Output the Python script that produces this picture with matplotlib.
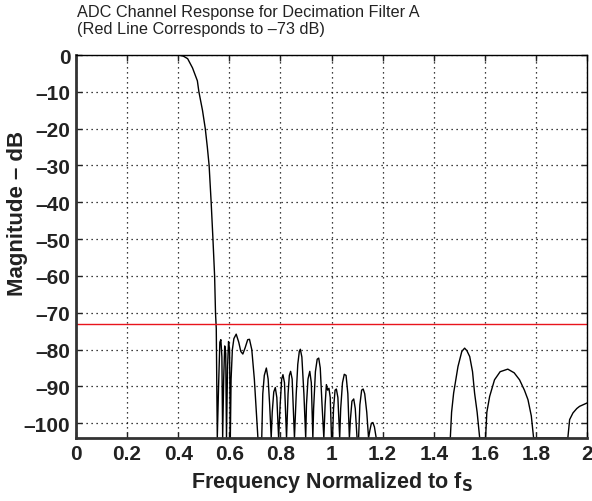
import numpy as np
import matplotlib
matplotlib.use("Agg")
import matplotlib.pyplot as plt

plt.rcParams["font.family"] = ["Liberation Sans", "DejaVu Sans"]

# Frekans (f/fS) ve genlik (dB); -104 = taban (null)
freq = [0.00, 0.40, 0.42, 0.437, 0.456, 0.475, 0.481, 0.495, 0.506, 0.514, 0.521,
        0.529, 0.536, 0.5425, 0.546, 0.549, 0.553,
        0.558, 0.563, 0.567, 0.571, 0.574,
        0.578, 0.582, 0.586, 0.589,
        0.593, 0.597, 0.601, 0.604,
        0.607, 0.612, 0.618, 0.627, 0.637, 0.645, 0.653, 0.662, 0.672, 0.679,
        0.688, 0.698, 0.706, 0.712, 0.727,
        0.731, 0.737, 0.745, 0.752, 0.758, 0.764,
        0.768, 0.774, 0.780, 0.786, 0.793,
        0.799, 0.805, 0.810, 0.816, 0.824,
        0.830, 0.835, 0.840, 0.846, 0.855,
        0.862, 0.868, 0.874, 0.878, 0.884, 0.892, 0.899,
        0.902, 0.908, 0.915, 0.921, 0.927,
        0.930, 0.937, 0.944, 0.950, 0.956, 0.963, 0.970,
        0.975, 0.980, 0.985, 0.990, 0.995, 1.000,
        1.004, 1.008, 1.014, 1.019, 1.025, 1.032,
        1.036, 1.043, 1.050, 1.057, 1.064, 1.070,
        1.074, 1.080, 1.087, 1.093, 1.100,
        1.106, 1.111, 1.118, 1.124, 1.130, 1.138, 1.145,
        1.150, 1.156, 1.162, 1.168, 1.175,
        1.465, 1.470, 1.478, 1.495, 1.510, 1.521, 1.530, 1.541, 1.552, 1.560, 1.570, 1.580,
        1.603, 1.608, 1.619, 1.638, 1.660, 1.690, 1.715, 1.736, 1.755, 1.769, 1.782, 1.791,
        1.925, 1.932, 1.945, 1.960, 1.971, 1.991, 2.000]
mag_db = [0.0, 0.0, -0.3, -1.0, -3.5, -7.0, -10.0, -15.0, -20.0, -25.0, -30.0,
          -40.0, -50.0, -60.0, -70.0, -74.3, -104,
          -90, -78, -77.3, -82, -104,
          -88, -79, -81, -104,
          -85, -77.8, -80, -104,
          -88, -80, -77, -75.8, -78, -80.5, -81.2, -79.5, -77.3, -77.2,
          -80, -88, -97, -104, -104,
          -92, -87, -85, -88, -95, -104,
          -97, -91.5, -90.3, -93, -104,
          -95, -88, -86.8, -89, -104,
          -92, -87, -85.9, -88, -104,
          -92, -84, -80.5, -79.9, -82, -92, -104,
          -95, -88, -85.9, -89, -104,
          -96, -86, -82.6, -82.3, -85, -95, -104,
          -95, -89.5, -91, -90.5, -93, -104,
          -104, -96, -91, -90.7, -93, -104,
          -96, -89, -86.7, -87, -92, -104,
          -99, -94, -93.4, -96, -104,
          -104, -95, -91, -90.7, -92, -97, -104,
          -102, -100, -99.8, -101, -104,
          -104, -97, -91.8, -84.6, -80.5, -79.6, -80.3, -81.9, -86, -91.8, -97, -104,
          -104, -97, -92.7, -88.2, -86, -85.3, -86.3, -88.2, -91, -93.6, -98, -104,
          -104, -99, -97.2, -96, -95.4, -94.8, -94.5]

red_level = -73
xticks = [0, 0.2, 0.4, 0.6, 0.8, 1.0, 1.2, 1.4, 1.6, 1.8, 2.0]
xtick_labels = ["0", "0.2", "0.4", "0.6", "0.8", "1", "1.2", "1.4", "1.6", "1.8", "2"]
yticks = [0, -10, -20, -30, -40, -50, -60, -70, -80, -90, -100]
ytick_labels = ["0" if v == 0 else "\u2013%d" % abs(v) for v in yticks]

fig = plt.figure(figsize=(5.92, 5.02), dpi=100)
ax = fig.add_axes([76 / 592, 1 - 439 / 502, 511 / 592, 383 / 502])

ax.plot(freq, mag_db, color="black", lw=1.0, clip_on=True)
ax.axhline(red_level, color="#e8141c", lw=1.0)

ax.set_xlim(0, 2)
ax.set_ylim(-104, 0)
ax.set_xticks(xticks)
ax.set_xticklabels(xtick_labels)
ax.set_yticks(yticks)
ax.set_yticklabels(ytick_labels)
ax.grid(True, color="black", ls=(0, (1, 3)), lw=0.9)
ax.tick_params(direction="in", length=4, width=1, top=True, right=True,
               labelsize=15, pad=4, colors="#222222")
for lab in ax.get_xticklabels() + ax.get_yticklabels():
    lab.set_fontweight("bold")
for s in ["left", "bottom"]:
    ax.spines[s].set_linewidth(2.0)
    ax.spines[s].set_color("#333333")
for s in ["top", "right"]:
    ax.spines[s].set_linewidth(1.0)

ax.set_xlabel("Frequency Normalized to f$_\\mathbf{S}$", fontsize=15.5,
              fontweight="bold", color="#222222", labelpad=5)
fig.text(18 / 592, 1 - 213 / 502, "Magnitude \u2013 dB", rotation=90, fontsize=16,
         fontweight="bold", color="#222222", ha="center", va="center")

fig.text(77 / 592, 1 - 12 / 502, "ADC Channel Response for Decimation Filter A",
         fontsize=11.7, ha="left", va="center", color="#222222")
fig.text(77 / 592, 1 - 30 / 502, "(Red Line Corresponds to \u201373 dB)",
         fontsize=11.7, ha="left", va="center", color="#222222")

fig.savefig("out.png", dpi=100)
